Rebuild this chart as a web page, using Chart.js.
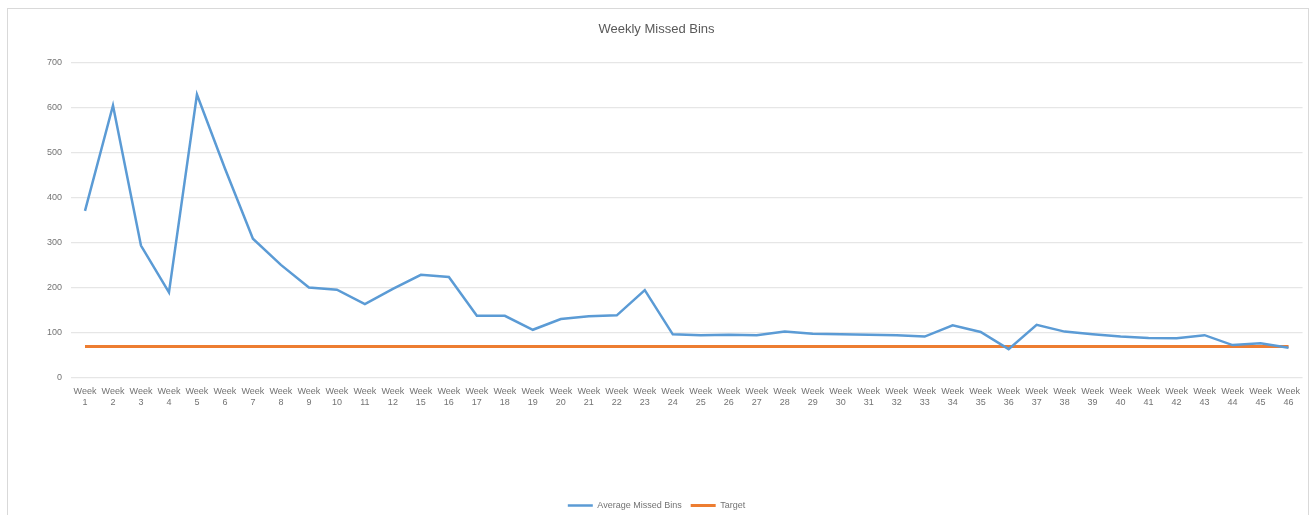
<!DOCTYPE html>
<html>
<head>
<meta charset="utf-8">
<script src="https://cdn.jsdelivr.net/npm/chart.js@4"></script>
<style>
  html, body { margin: 0; padding: 0; background: #fff; }
  #wrap { position: absolute; left: 7px; top: 8px; width: 1300px; height: 520px; border: 1px solid #d9d9d9; background: #fff; }
  #chart { display: block; }
</style>
</head>
<body>
<div id="wrap"><canvas id="chart" width="1300" height="511"></canvas></div>
<script>
const weeks = ['1','2','3','4','5','6','7','8','9','10','11','12','15','16','17','18','19','20','21','22','23','24','25','26','27','28','29','30','31','32','33','34','35','36','37','38','39','40','41','42','43','44','45','46'];
const avgMissed = [371, 605, 294, 190, 629, 465, 309, 251, 201, 196, 164, 198, 229, 224, 138, 138, 107, 131, 137, 139, 195, 97, 95, 96, 95, 103, 98, 97, 96, 95, 92, 117, 102, 64, 118, 103, 97, 92, 89, 88, 95, 73, 77, 67];
const target = [70, 70, 70, 70, 70, 70, 70, 70, 70, 70, 70, 70, 70, 70, 70, 70, 70, 70, 70, 70, 70, 70, 70, 70, 70, 70, 70, 70, 70, 70, 70, 70, 70, 70, 70, 70, 70, 70, 70, 70, 70, 70, 70, 70];
const yTicks = [0, 100, 200, 300, 400, 500, 600, 700];

const font = "'Liberation Sans', Arial, sans-serif";
const textColor = '#737373';

new Chart(document.getElementById('chart'), {
  type: 'line',
  data: {
    labels: weeks.map(w => ['Week', w]),
    datasets: [
      { label: 'Average Missed Bins', data: avgMissed, borderColor: '#5b9bd5', backgroundColor: '#5b9bd5',
        borderWidth: 2.5, pointRadius: 0, tension: 0, fill: false },
      { label: 'Target', data: target, borderColor: '#ed7d31', backgroundColor: '#ed7d31',
        borderWidth: 3, pointRadius: 0, tension: 0, fill: false },
    ],
  },
  options: {
    responsive: false, animation: false,
    layout: { padding: { left: 0, right: 3, top: 0, bottom: 0 } },
    plugins: {
      title: { display: true, text: 'Weekly Missed Bins', color: '#595959',
        font: { family: font, size: 13, weight: 'normal' }, padding: { top: 13, bottom: 25 } },
      legend: { position: 'bottom',
        labels: { usePointStyle: true, pointStyle: 'line', pointStyleWidth: 25, color: textColor,
          font: { family: font, size: 9 }, padding: 9 } },
      tooltip: { enabled: false },
    },
    scales: {
      x: {
        offset: true,
        grid: { display: false, drawTicks: false },
        border: { display: false },
        ticks: { autoSkip: false, maxRotation: 0, minRotation: 0, color: textColor, padding: 8,
          font: { family: font, size: 9 } },
        afterFit: s => { s.height = 114; },
      },
      y: {
        min: 0, max: 700,
        afterBuildTicks: s => { s.ticks = yTicks.map(v => ({ value: v })); },
        grid: { color: '#e6e6e6', lineWidth: 1.3, drawTicks: false },
        border: { display: false },
        ticks: { color: textColor, padding: 9, font: { family: font, size: 9 } },
        afterFit: s => { s.width = 63; },
      },
    },
  },
});
</script>
</body>
</html>
